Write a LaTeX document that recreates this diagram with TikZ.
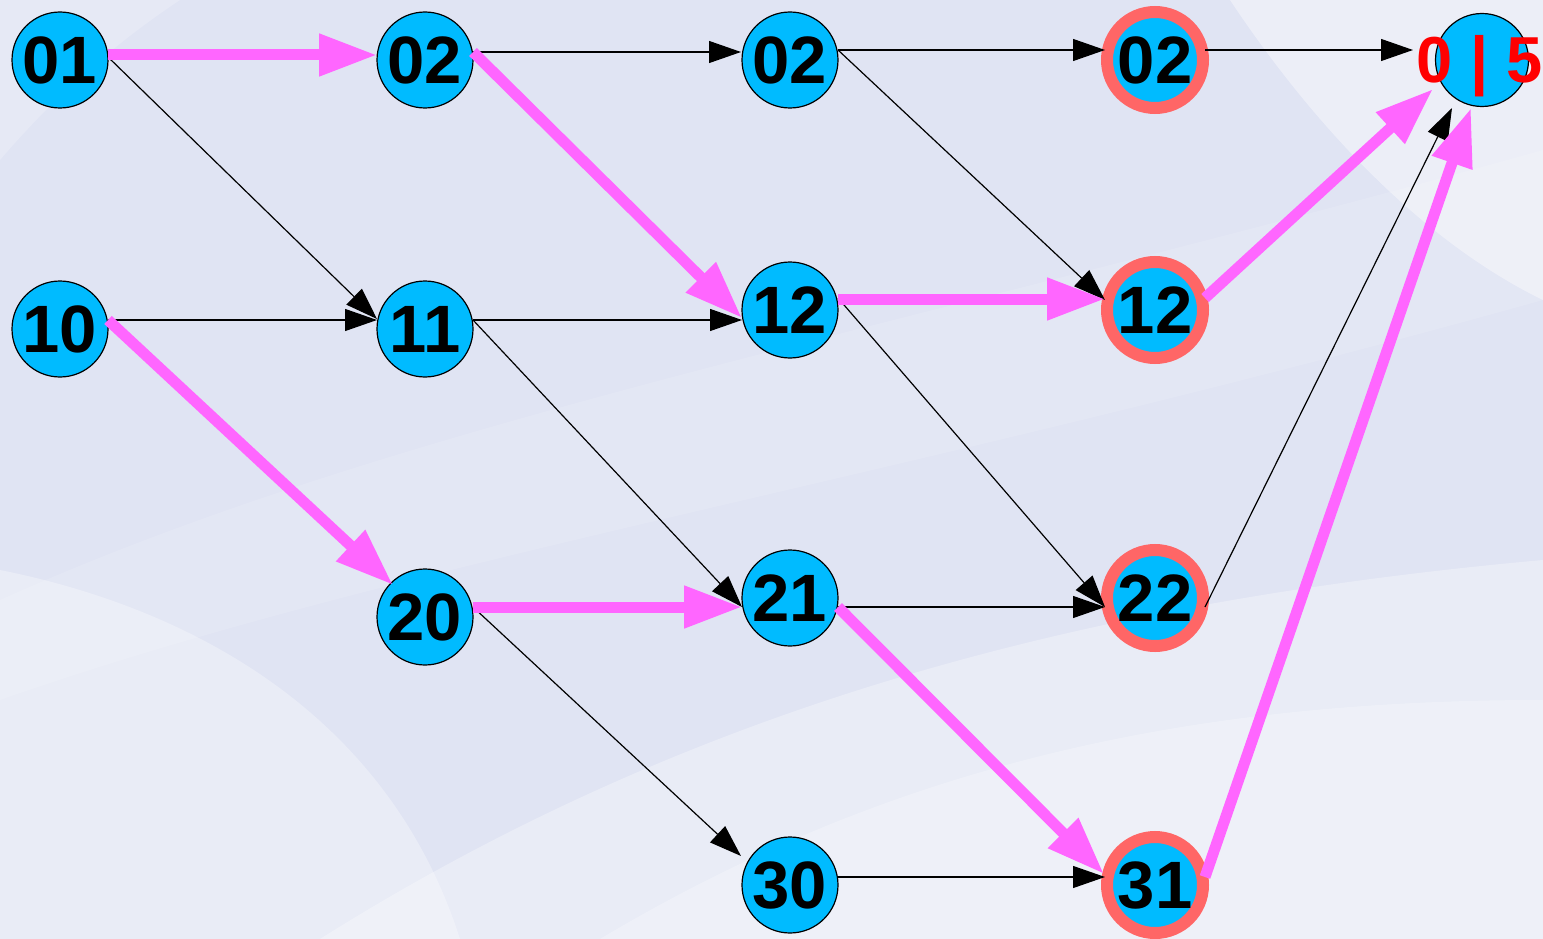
\documentclass[tikz,border=0pt]{standalone}
\usepackage{fontspec}
\setmainfont{Liberation Sans}
\usetikzlibrary{arrows.meta}
\definecolor{nodeblue}{RGB}{0,187,255}
\definecolor{pinkc}{RGB}{255,102,255}
\definecolor{ringred}{RGB}{255,102,102}
\definecolor{labelred}{RGB}{255,0,0}
\definecolor{bgbase}{RGB}{224,228,243}
\begin{document}
\begin{tikzpicture}[x=1pt,y=-1pt,
  vnode/.style={circle,draw=black,line width=1.2pt,fill=nodeblue,minimum size=96pt,inner sep=0pt,
    font=\fontsize{67pt}{67pt}\selectfont\bfseries},
  ringnode/.style={vnode,draw=ringred,line width=12pt},
  pinkedge/.style={draw=pinkc,line width=11pt,-{Triangle[length=58pt,width=40pt]}},
  blackedge/.style={draw=black,line width=1.2pt,-{Triangle[length=32pt,width=22pt]}},
  swoosh/.style={fill=white,opacity=#1},
]
\useasboundingbox (0,0) rectangle (1543,939);
% background
\fill[bgbase] (0,0) rectangle (1543,939);
\fill[swoosh=0.3] (0,570) .. controls (200,610) and (390,720) .. (460,939) -- (0,939) -- cycle;
\fill[swoosh=0.3] (320,939) .. controls (700,700) and (1100,600) .. (1543,560) -- (1543,939) -- cycle;
\fill[swoosh=0.25] (600,939) .. controls (900,760) and (1200,700) .. (1543,700) -- (1543,939) -- cycle;
\fill[swoosh=0.4] (1230,0) .. controls (1330,150) and (1440,250) .. (1543,300) -- (1543,0) -- cycle;
\fill[swoosh=0.2] (0,160) .. controls (60,90) and (120,40) .. (180,0) -- (0,0) -- cycle;
\fill[swoosh=0.12] (0,600) .. controls (400,420) and (900,330) .. (1543,150) -- (1543,300) .. controls (900,480) and (400,560) .. (0,700) -- cycle;

% nodes
\node[vnode] (n01) at (60,60) {01};
\node[vnode] (n10) at (60,329) {10};
\node[vnode] (n02a) at (425,60) {02};
\node[vnode] (n11) at (425,329) {11};
\node[vnode] (n20) at (425,617) {20};
\node[vnode] (n02b) at (790,60) {02};
\node[vnode] (n12b) at (790,310) {12};
\node[vnode] (n21) at (790,598) {21};
\node[vnode] (n30) at (790,885) {30};
\node[ringnode] (n02c) at (1155,60) {02};
\node[ringnode] (n12c) at (1155,310) {12};
\node[ringnode] (n22) at (1155,598) {22};
\node[ringnode] (n31) at (1155,885) {31};
\node[vnode,minimum size=93pt] (f) at (1482,60) {};

% black edges
\draw[blackedge] ([shift={(48,-3)}]n01.center) -- ([shift={(-48,-10)}]n11.center);
\draw[blackedge] ([shift={(48,-9)}]n10.center) -- ([shift={(-48,-9)}]n11.center);
\draw[blackedge] ([shift={(48,-8)}]n02a.center) -- ([shift={(-49,-8)}]n02b.center);
\draw[blackedge] ([shift={(48,-9)}]n11.center) -- ([shift={(-48,10)}]n12b.center);
\draw[blackedge] ([shift={(48,-9)}]n11.center) -- ([shift={(-48,9)}]n21.center);
\draw[blackedge] ([shift={(48,-10)}]n20.center) -- ([shift={(-49,-29)}]n30.center);
\draw[blackedge] ([shift={(48,-10)}]n02b.center) -- ([shift={(-50,-10)}]n02c.center);
\draw[blackedge] ([shift={(48,-10)}]n02b.center) -- ([shift={(-50,-10)}]n12c.center);
\draw[blackedge] ([shift={(48,-12)}]n12b.center) -- ([shift={(-50,9)}]n22.center);
\draw[blackedge] ([shift={(48,9)}]n21.center) -- ([shift={(-50,9)}]n22.center);
\draw[blackedge] ([shift={(48,-8)}]n30.center) -- ([shift={(-50,-8)}]n31.center);
\draw[blackedge] ([shift={(50,-10)}]n02c.center) -- ([shift={(-69,-10)}]f.center);
\draw[blackedge] ([shift={(50,9)}]n22.center) -- ([shift={(-30,48)}]f.center);

% pink edges (path)
\draw[pinkedge] ([shift={(48,-5)}]n01.center) -- ([shift={(-48,-5)}]n02a.center);
\draw[pinkedge] ([shift={(48,-9)}]n10.center) -- ([shift={(-32,-32)}]n20.center);
\draw[pinkedge] ([shift={(48,-8)}]n02a.center) -- ([shift={(-48,8)}]n12b.center);
\draw[pinkedge] ([shift={(48,-10)}]n20.center) -- ([shift={(-48,9)}]n21.center);
\draw[pinkedge] ([shift={(48,-11)}]n12b.center) -- ([shift={(-50,-11)}]n12c.center);
\draw[pinkedge] ([shift={(48,9)}]n21.center) -- ([shift={(-51,-11)}]n31.center);
\draw[pinkedge] ([shift={(50,-12)}]n12c.center) -- ([shift={(-49,29)}]f.center);
\draw[pinkedge] ([shift={(50,-8)}]n31.center) -- ([shift={(-11,48)}]f.center);

% final label
\node[anchor=base,inner sep=0pt,text=labelred,font=\fontsize{65pt}{65pt}\selectfont\bfseries] (flabel) at (1479.5,83) {0 | 5};
\end{tikzpicture}
\end{document}
